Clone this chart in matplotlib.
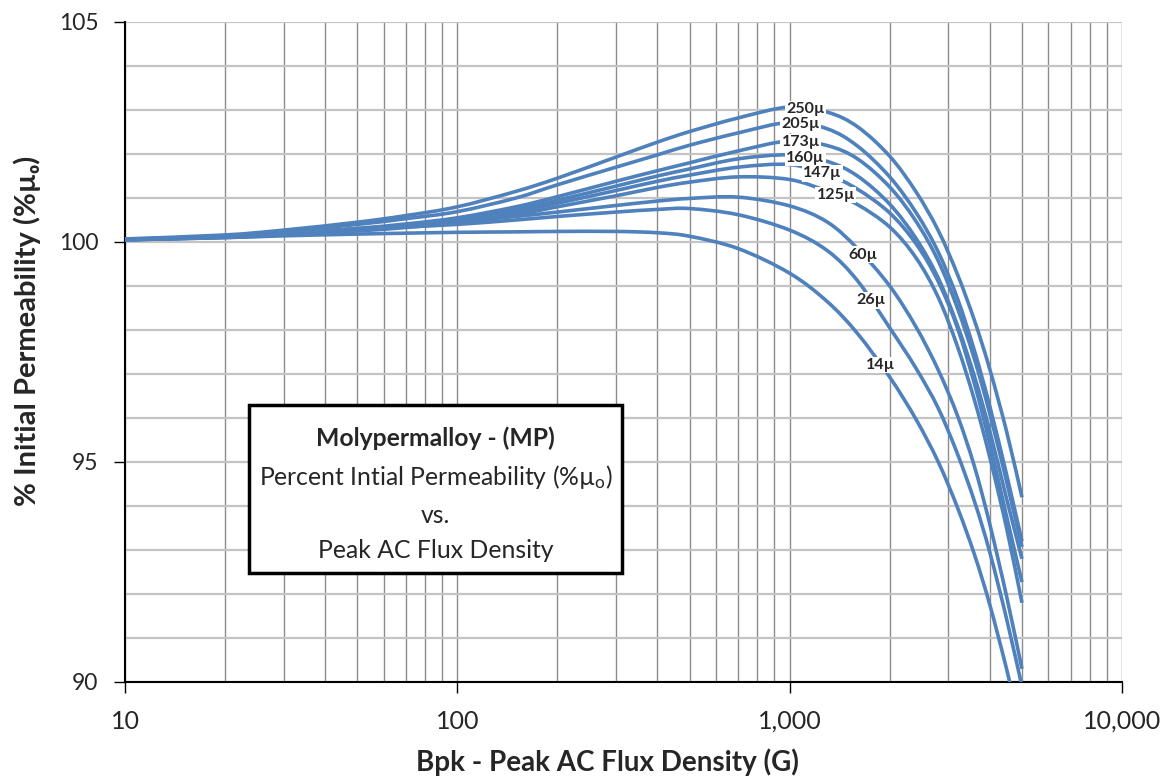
import numpy as np
import matplotlib
matplotlib.use('Agg')
import matplotlib.pyplot as plt
from matplotlib.patches import Rectangle, PathPatch
from matplotlib.path import Path
from matplotlib.ticker import LogLocator, MultipleLocator, FixedLocator, FuncFormatter, NullFormatter

# ---------------- data ----------------
flux = [10, 20, 30, 50, 70, 100, 150, 200, 300, 400, 500, 700, 1000, 1300,
        1600, 2000, 2400, 2800, 3200, 3600, 4000, 4500, 5000]

perm_250 = [100.07, 100.16, 100.27, 100.45, 100.60, 100.80, 101.15, 101.45, 101.93, 102.27, 102.51, 102.82,
            103.07, 102.95, 102.62, 101.95, 101.14, 100.26, 99.26, 98.21, 97.11, 95.68, 94.20]
perm_205 = [100.06, 100.14, 100.24, 100.40, 100.53, 100.69, 101.00, 101.30, 101.70, 101.98, 102.20, 102.48,
            102.72, 102.57, 102.18, 101.48, 100.67, 99.77, 98.71, 97.52, 96.27, 94.70, 93.20]
perm_173 = [100.06, 100.12, 100.19, 100.31, 100.41, 100.55, 100.80, 101.03, 101.38, 101.62, 101.80, 102.07,
            102.30, 102.19, 101.89, 101.25, 100.47, 99.57, 98.49, 97.33, 96.10, 94.54, 93.07]
perm_160 = [100.06, 100.11, 100.18, 100.29, 100.38, 100.51, 100.74, 100.95, 101.27, 101.50, 101.66, 101.89,
            101.98, 101.83, 101.50, 100.86, 100.08, 99.18, 98.10, 96.94, 95.71, 94.15, 92.80]
perm_147 = [100.05, 100.11, 100.17, 100.27, 100.36, 100.48, 100.68, 100.88, 101.17, 101.38, 101.52, 101.70,
            101.76, 101.53, 101.20, 100.66, 99.96, 99.10, 98.04, 96.77, 95.42, 93.75, 92.27]
perm_125 = [100.05, 100.10, 100.16, 100.25, 100.33, 100.44, 100.62, 100.80, 101.05, 101.24, 101.36, 101.48,
            101.42, 101.15, 100.85, 100.34, 99.64, 98.74, 97.62, 96.40, 95.11, 93.48, 91.80]
perm_60 = [100.05, 100.13, 100.20, 100.30, 100.38, 100.46, 100.58, 100.68, 100.83, 100.93, 100.99, 101.02,
           100.82, 100.45, 99.85, 99.00, 98.07, 97.09, 96.05, 94.89, 93.59, 91.93, 90.30]
perm_26 = [100.05, 100.12, 100.18, 100.27, 100.34, 100.40, 100.50, 100.58, 100.68, 100.74, 100.76, 100.62,
           100.27, 99.80, 99.12, 98.05, 97.13, 96.22, 95.18, 94.10, 92.95, 91.42, 89.90]
perm_14 = [100.05, 100.10, 100.14, 100.18, 100.20, 100.22, 100.23, 100.24, 100.24, 100.21, 100.13, 99.85,
           99.29, 98.64, 97.92, 96.93, 95.97, 95.00, 93.96, 92.89, 91.76, 90.28, 88.83]

series_names = ['250µ', '205µ', '173µ', '160µ', '147µ', '125µ', '60µ', '26µ', '14µ']
series_values = [perm_250, perm_205, perm_173, perm_160, perm_147, perm_125, perm_60, perm_26, perm_14]
label_flux = [1117, 1079, 1079, 1117, 1256, 1376, 1660, 1755, 1879]

x_ticks = [10, 100, 1000, 10000]
y_ticks = [90, 95, 100, 105]

# ---------------- style ----------------
LINE = '#4f81bd'
FONT = ['Lato', 'DejaVu Sans']
TXT = '#262626'


def smooth_path(xs, ys):
    """Excel-like smoothed line: Catmull-Rom segments drawn as cubic Beziers (log-x space)."""
    P = np.column_stack([np.log10(xs), np.asarray(ys, float)])
    n = len(P)
    verts = [P[0]]
    codes = [Path.MOVETO]
    for i in range(n - 1):
        p0 = P[i - 1] if i > 0 else P[i]
        p1, p2 = P[i], P[i + 1]
        p3 = P[i + 2] if i + 2 < n else P[i + 1]
        verts += [p1 + (p2 - p0) / 6.0, p2 - (p3 - p1) / 6.0, p2]
        codes += [Path.CURVE4] * 3
    verts = np.array(verts)
    verts[:, 0] = 10 ** verts[:, 0]
    return Path(verts, codes)


fig = plt.figure(figsize=(11.68, 7.8), dpi=100)
ax = fig.add_axes([125/1168, 1-682/780, 997/1168, 660/780])

ax.set_xscale('log')
ax.set_xlim(10, 10000)
ax.set_ylim(90, 105)

for vals in series_values:
    ax.add_patch(PathPatch(smooth_path(flux, vals), fill=False, ec=LINE, lw=2.6,
                           capstyle='butt', joinstyle='round', zorder=3))

lf = np.log10(flux)
for name, vals, bx in zip(series_names, series_values, label_flux):
    by = np.interp(np.log10(bx), lf, vals)
    ax.text(bx, by, name, ha='center', va='center', fontsize=11.5, fontweight='bold',
            family=FONT, color=TXT, zorder=4,
            bbox=dict(boxstyle='square,pad=0.08', fc='white', ec='none'))

ax.xaxis.set_major_locator(FixedLocator(x_ticks))
ax.xaxis.set_minor_locator(LogLocator(base=10, subs=range(2, 10)))
ax.xaxis.set_major_formatter(FuncFormatter(lambda v, p: f'{int(round(v)):,}'))
ax.xaxis.set_minor_formatter(NullFormatter())
ax.yaxis.set_major_locator(FixedLocator(y_ticks))
ax.yaxis.set_minor_locator(MultipleLocator(1))

ax.grid(True, which='both', axis='x', color='#8c8c8c', lw=1.0, zorder=1)
ax.grid(True, which='both', axis='y', color='#c4c4c4', lw=1.6, zorder=1)
ax.set_axisbelow(True)

for s in ['top', 'right']:
    ax.spines[s].set_visible(False)
for s in ['left', 'bottom']:
    ax.spines[s].set_color('black')
    ax.spines[s].set_linewidth(1.5)

ax.tick_params(axis='x', which='major', length=8, width=1, pad=12, labelsize=18, labelcolor=TXT)
ax.tick_params(axis='y', which='major', length=8, width=1, pad=11, labelsize=16.5, labelcolor=TXT)
ax.tick_params(which='minor', length=0)
for lab in ax.get_xticklabels() + ax.get_yticklabels():
    lab.set_family(FONT)

ax.set_xlabel('Bpk - Peak AC Flux Density (G)', fontsize=20, fontweight='bold', family=FONT, color=TXT)
ax.set_ylabel('% Initial Permeability (%µₒ)', fontsize=21, fontweight='bold', family=FONT, color=TXT)
ax.xaxis.set_label_coords(0.4835, -0.121)
ax.xaxis.label.set_va('center')
ax.yaxis.set_label_coords(-0.098, 0.532)
ax.yaxis.label.set_va('center')

# annotation box
ax.add_patch(Rectangle((0.1244, 0.1652), 0.3741, 0.2545, transform=ax.transAxes,
                       fc='white', ec='black', lw=2.5, zorder=5, clip_on=False))
cx = 0.3114
ax.text(cx, 0.3697, 'Molypermalloy - (MP)', transform=ax.transAxes, ha='center', va='center',
        fontsize=17.8, fontweight='bold', family=FONT, color=TXT, zorder=6)
ax.text(cx, 0.3106, 'Percent Intial Permeability (%µ$\\mathregular{_o}$)', transform=ax.transAxes,
        ha='center', va='center', fontsize=17.8, family=FONT, color=TXT, zorder=6)
ax.text(cx, 0.253, 'vs.', transform=ax.transAxes, ha='center', va='center',
        fontsize=17.8, family=FONT, color=TXT, zorder=6)
ax.text(cx, 0.200, 'Peak AC Flux Density', transform=ax.transAxes, ha='center', va='center',
        fontsize=17.8, family=FONT, color=TXT, zorder=6)

fig.savefig('out.png', dpi=100, facecolor='white')
